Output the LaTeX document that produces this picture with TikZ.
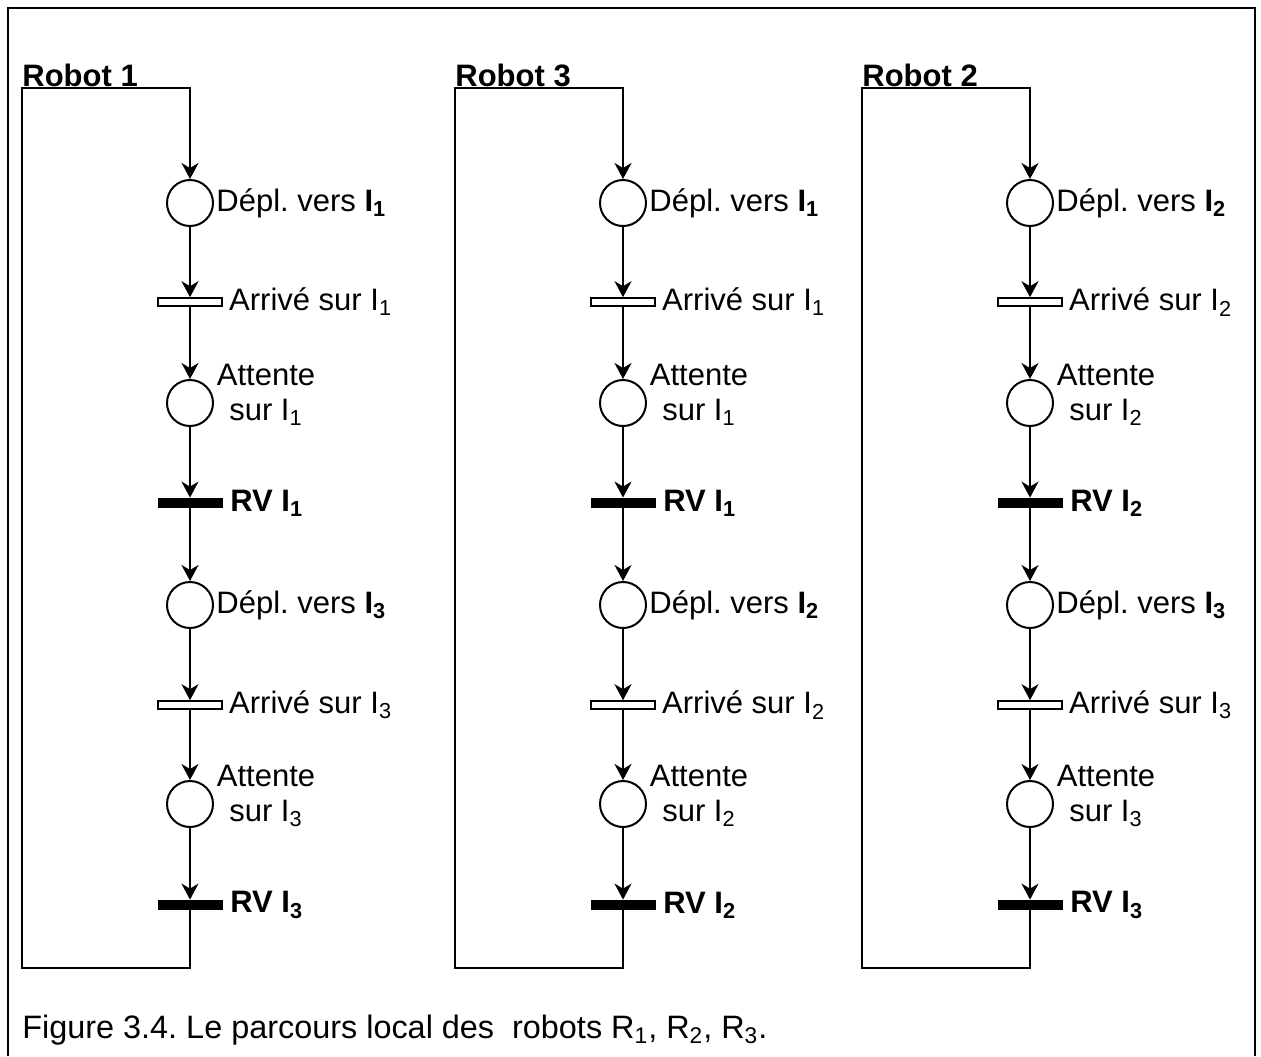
\documentclass[tikz,border=0pt]{standalone}
\usepackage{fontspec}
\setmainfont{Liberation Sans}
\usetikzlibrary{arrows.meta}
\frenchspacing
\tikzset{
  place/.style={circle, draw, line width=1pt, minimum size=23pt, inner sep=0pt},
  opentrans/.style={rectangle, draw, fill=white, line width=0.8pt, minimum width=32pt, minimum height=4pt, inner sep=0pt},
  blacktrans/.style={rectangle, fill=black, minimum width=32.5pt, minimum height=5pt, inner sep=0pt},
  arc/.style={line width=1pt, -{Stealth[length=8pt,width=8.5pt,inset=2.5pt]}},
  lbl/.style={anchor=west, inner sep=0pt},
}
\newcommand{\robotcol}[6]{%
  \node[place] (#1p1) at (#2,203) {};
  \node[opentrans] (#1t1) at (#2,302) {};
  \node[place] (#1p2) at (#2,403) {};
  \node[blacktrans] (#1t2) at (#2,503) {};
  \node[place] (#1p3) at (#2,605) {};
  \node[opentrans] (#1t3) at (#2,705) {};
  \node[place] (#1p4) at (#2,804) {};
  \node[blacktrans] (#1t4) at (#2,905) {};
  \coordinate (#1a) at (#3,88);
  \coordinate (#1b) at (#2,88);
  \coordinate (#1c) at (#3,968);
  \coordinate (#1d) at (#2,968);
  \node[anchor=base west, inner sep=0pt] (#1title) at (#3,86) {\textbf{Robot #4}};
  \node[lbl] (#1l1) at ([xshift=1pt]#1p1.east) {Dépl. vers \textbf{I\textsubscript{#5}}};
  \node[lbl] (#1l2) at ([xshift=3pt]#1t1.east) {Arrivé sur I\textsubscript{#5}};
  \node[align=center, inner sep=0pt] (#1l3) at ({#2+76},395) {Attente\\sur I\textsubscript{#5}};
  \node[lbl] (#1l4) at ([xshift=3.5pt]#1t2.east) {\textbf{RV I\textsubscript{#5}}};
  \node[lbl] (#1l5) at ([xshift=1pt]#1p3.east) {Dépl. vers \textbf{I\textsubscript{#6}}};
  \node[lbl] (#1l6) at ([xshift=3pt]#1t3.east) {Arrivé sur I\textsubscript{#6}};
  \node[align=center, inner sep=0pt] (#1l7) at ({#2+76},796) {Attente\\sur I\textsubscript{#6}};
  \node[lbl] (#1l8) at ([xshift=3.5pt]#1t4.east) {\textbf{RV I\textsubscript{#6}}};
  \draw[arc] (#1t4) -- (#1d) -- (#1c) -- (#1a) -- (#1b) -- (#1p1);
  \draw[arc] (#1p1) -- (#1t1);
  \draw[arc] (#1t1) -- (#1p2);
  \draw[arc] (#1p2) -- (#1t2);
  \draw[arc] (#1t2) -- (#1p3);
  \draw[arc] (#1p3) -- (#1t3);
  \draw[arc] (#1t3) -- (#1p4);
  \draw[arc] (#1p4) -- (#1t4);
}
\begin{document}
\begin{tikzpicture}[x=0.5pt, y=-0.5pt, font=\fontsize{15.5}{17.5}\selectfont]
  \useasboundingbox (0,0) rectangle (1261,1056);
  \draw[line width=1.25pt] (8,1056) -- (8,8) -- (1255,8) -- (1255,1056);
  \robotcol{ra}{190}{22}{1}{1}{3}
  \robotcol{rb}{623}{455}{3}{1}{2}
  \robotcol{rc}{1030}{862}{2}{2}{3}
  \node[anchor=base west, inner sep=0pt, font=\fontsize{16.2}{18}\selectfont] (caption) at (22,1038)
    {Figure 3.4. Le parcours local des~ robots R\textsubscript{1}, R\textsubscript{2}, R\textsubscript{3}.};
\end{tikzpicture}
\end{document}
